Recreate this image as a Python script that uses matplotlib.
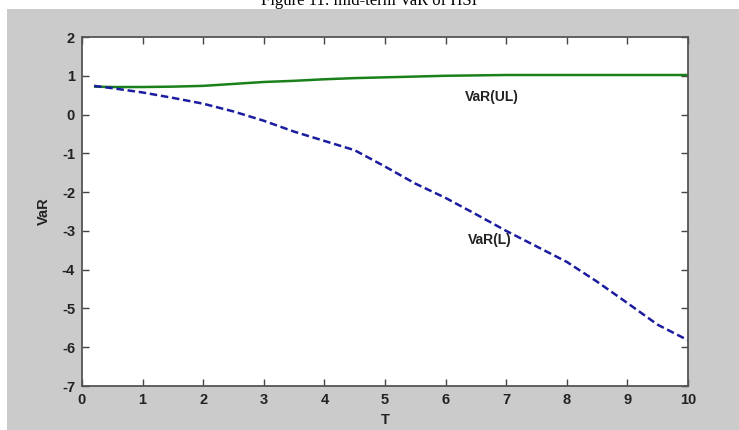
import matplotlib.pyplot as plt
from matplotlib.patches import Rectangle

# 만기별 VaR 값
T = [0.2, 0.5, 1, 1.5, 2, 2.5, 3, 3.5, 4, 4.5, 5, 5.5, 6, 6.5, 7, 7.5, 8, 8.5, 9, 9.5, 10]
var_ul = [0.72, 0.71, 0.71, 0.72, 0.74, 0.79, 0.84, 0.87, 0.91, 0.94, 0.96,
          0.98, 1.00, 1.01, 1.02, 1.02, 1.02, 1.02, 1.02, 1.02, 1.02]
var_l = [0.74, 0.68, 0.57, 0.43, 0.28, 0.08, -0.16, -0.44, -0.68, -0.92, -1.34,
         -1.78, -2.15, -2.57, -3.00, -3.40, -3.80, -4.31, -4.86, -5.42, -5.82]

xticks = list(range(0, 11))
yticks = list(range(-7, 3))

plt.rcParams['axes.unicode_minus'] = False
plt.rcParams['font.family'] = ['Liberation Sans', 'DejaVu Sans']

fig = plt.figure(figsize=(7.39, 4.3), dpi=100)
fig.patch.set_facecolor('white')
# 회색 배경 (MATLAB 창)
fig.patches.append(Rectangle((7 / 739, 0), 1, (430 - 9) / 430, transform=fig.transFigure,
                             facecolor='#cbcbcb', edgecolor='none', zorder=-10))
fig.text(0.5, (430 - 9) / 430, 'Figure 11: mid-term VaR of HSI', ha='center', va='bottom',
         fontsize=12, family='Liberation Serif')

ax = fig.add_axes([82 / 739, 44 / 430, (688 - 82) / 739, (386 - 37) / 430])
ax.set_facecolor('white')
ax.plot(T, var_ul, color='#1a801a', lw=1.8, solid_capstyle='butt')
ax.plot(T, var_l, color='#1c1ca0', lw=1.8, dashes=(3, 1.5))

ax.text(6.77, 0.45, 'VaR(UL)', ha='center', va='center', fontsize=10, fontweight='bold', color='#222222')
ax.text(6.73, -3.23, 'VaR(L)', ha='center', va='center', fontsize=10, fontweight='bold', color='#222222')

ax.set_xlim(0, 10)
ax.set_ylim(-7, 2)
ax.set_xticks(xticks)
ax.set_yticks(yticks)
ax.tick_params(direction='in', length=5, width=1, colors='#444444', labelcolor='#222222',
               top=True, right=True, labelsize=10.5, pad=5)
for lab in ax.get_xticklabels() + ax.get_yticklabels():
    lab.set_fontweight('bold')
for s in ax.spines.values():
    s.set_color('#555555')
    s.set_linewidth(1.3)

ax.set_xlabel('T', fontsize=10.5, fontweight='bold', color='#222222', labelpad=4)
ax.set_ylabel('VaR', fontsize=10.5, fontweight='bold', color='#222222', labelpad=8)

fig.savefig('out.png', dpi=100)
